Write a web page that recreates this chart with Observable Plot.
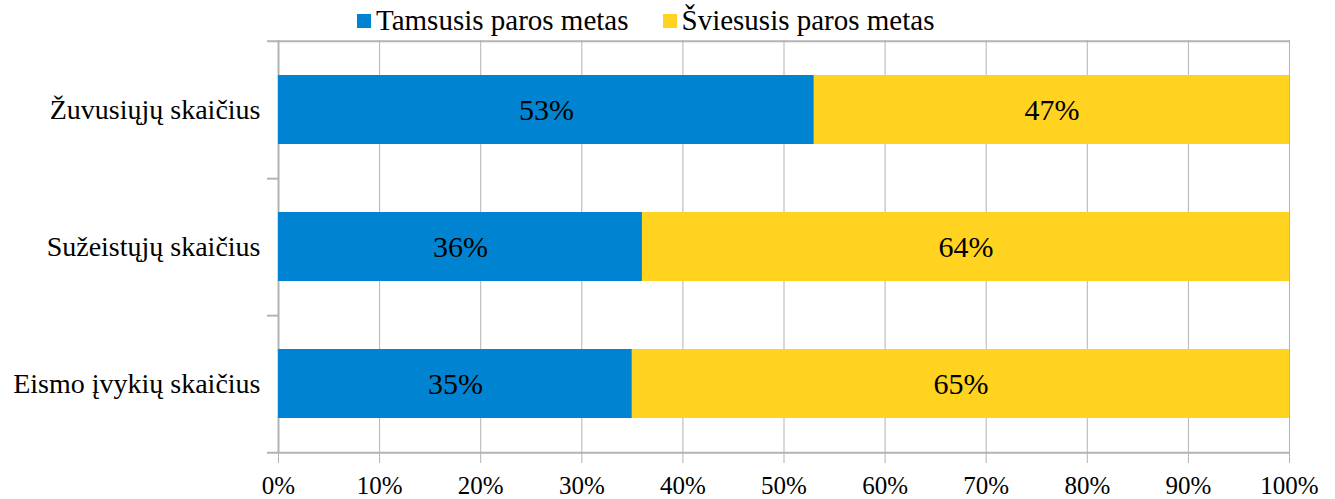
<!DOCTYPE html>
<html lang="lt">
<head>
<meta charset="utf-8">
<script src="https://cdn.jsdelivr.net/npm/d3@7"></script>
<script src="https://cdn.jsdelivr.net/npm/@observablehq/plot@0.6"></script>
<style>
  * { font-family: "Liberation Serif", serif !important; }
  html, body { margin: 0; padding: 0; background: #fff; }
  #wrap { position: relative; width: 1335px; height: 499px; }
  #legend { position: absolute; top: 4px; left: 357px; display: flex; align-items: center; font-size: 29px; color: #000; white-space: nowrap; z-index: 2; }
  #legend .item { display: flex; align-items: center; }
  #legend .sw { width: 14px; height: 14px; margin-right: 5px; }
  #chart { position: absolute; top: 0; left: 0; }
</style>
</head>
<body>
<div id="wrap">
  <div id="legend"></div>
  <div id="chart"></div>
</div>
<script>
const categories = ["Žuvusiųjų skaičius", "Sužeistųjų skaičius", "Eismo įvykių skaičius"];
const seriesNames = ["Tamsusis paros metas", "Šviesusis paros metas"];
const darkValues = [53, 36, 35];
const lightValues = [47, 64, 65];
const xTicks = [0, 10, 20, 30, 40, 50, 60, 70, 80, 90, 100];
const colors = ["#0084d1", "#ffd320"];

const data = [];
categories.forEach((c, i) => {
  data.push({cat: c, series: seriesNames[0], value: darkValues[i]});
  data.push({cat: c, series: seriesNames[1], value: lightValues[i]});
});

const gridColor = "#b3b3b3";
const halfStep = (499 - 40 - 47) / categories.length / 2;
const serif = '"Liberation Serif", serif';

const chart = Plot.plot({
  width: 1335,
  height: 499,
  marginTop: 40,
  marginBottom: 47,
  marginLeft: 278,
  marginRight: 46,
  style: {fontFamily: serif, color: "#000", background: "#fff", overflow: "visible"},
  x: {domain: [0, 100]},
  y: {domain: categories, paddingInner: 0.5, paddingOuter: 0.25},
  color: {domain: seriesNames, range: colors},
  marks: [
    Plot.gridX(xTicks, {stroke: gridColor, strokeOpacity: 1, strokeWidth: 1}),
    Plot.ruleY([categories[0]], {dy: -halfStep, stroke: gridColor, strokeWidth: 2, insetLeft: -11}),
    Plot.ruleY([categories[categories.length - 1]], {dy: halfStep, stroke: gridColor, strokeWidth: 2, insetLeft: -11}),
    Plot.ruleY(categories.slice(0, -1), {dy: halfStep, stroke: gridColor, strokeWidth: 2, x1: 0, x2: 0, insetLeft: -11}),
    Plot.ruleX([0], {stroke: gridColor, strokeWidth: 2}),
    Plot.barX(data, {y: "cat", x: "value", fill: "series", z: "series", order: seriesNames}),
    Plot.text(data, Plot.stackX({y: "cat", x: "value", z: "series", order: seriesNames, text: d => d.value + "%", fontSize: 30, fill: "#000"})),
    Plot.axisX(xTicks, {tickFormat: d => d + "%", tickSize: 11, tickPadding: 13, fontSize: 25, stroke: gridColor, fill: "#000", label: null}),
    Plot.axisY({tickSize: 0, tickPadding: 18, fontSize: 28, fill: "#000", label: null})
  ]
});
document.getElementById("chart").appendChild(chart);

const legend = document.getElementById("legend");
seriesNames.forEach((s, i) => {
  const item = document.createElement("div");
  item.className = "item";
  item.style.marginRight = i === 0 ? "34px" : "0";
  const sw = document.createElement("div");
  sw.className = "sw";
  sw.style.background = colors[i];
  const t = document.createElement("span");
  t.textContent = s;
  item.appendChild(sw);
  item.appendChild(t);
  legend.appendChild(item);
});

document.querySelectorAll("#wrap, #wrap *").forEach(el => {
  el.style.setProperty("font-family", serif, "important");
  if (el.tagName.toLowerCase() === "text" || el.tagName.toLowerCase() === "g") el.setAttribute("font-family", serif);
});
</script>
</body>
</html>
